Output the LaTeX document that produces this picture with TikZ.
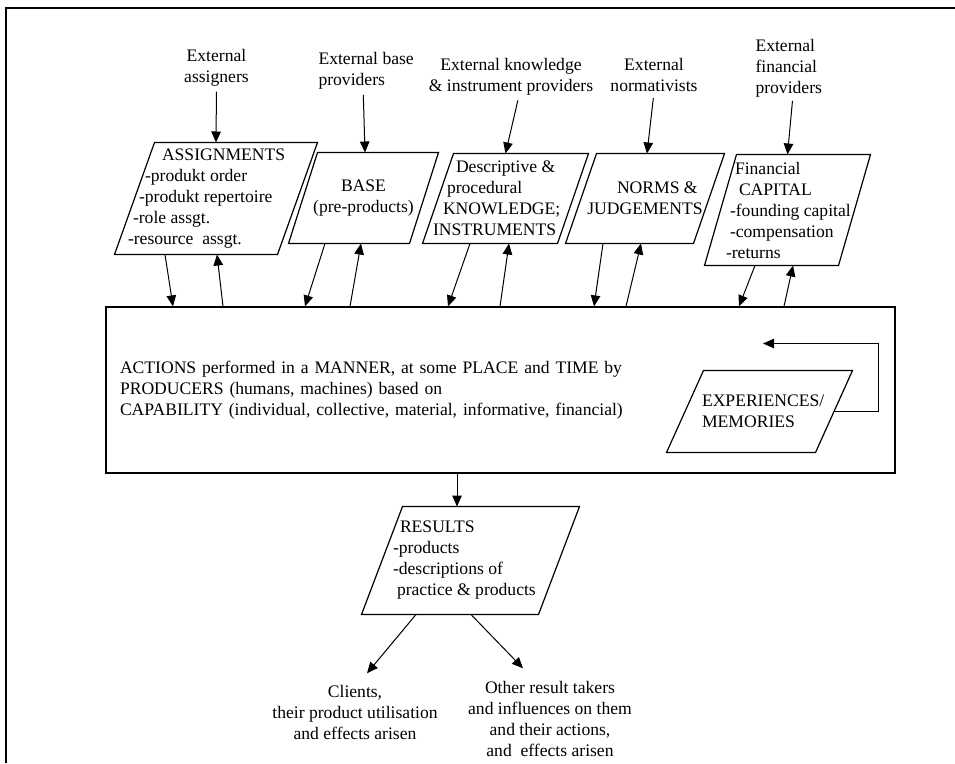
\documentclass[tikz,border=0pt]{standalone}
\usepackage{fontspec}
\setmainfont{Liberation Serif}
\usetikzlibrary{arrows.meta}

% parallelogram drawn round a node: node name, half of the slant
\newcommand{\slantbox}[2]{%
  \draw[box] ([xshift=#2pt]#1.north west) -- ([xshift=#2pt]#1.north east)
    -- ([xshift=-#2pt]#1.south east) -- ([xshift=-#2pt]#1.south west) -- cycle;}

\begin{document}
\begin{tikzpicture}[
    x=1pt, y=-1pt,
    line width=1pt,
    >={Triangle[length=11pt, width=9.5pt]},
    every node/.style={font=\fontsize{17.6}{21}\selectfont, inner sep=0pt},
    slant/.style={inner sep=0pt},
    box/.style={draw, line width=1.2pt}
]
\useasboundingbox (0,0) rectangle (955,763);

% page frame
\draw[line width=1.8pt] (6,763) -- (6,8) -- (955,8);

% outside parties
\node[align=center] (extassign) at (216.5,67.5) {External\\assigners};
\node[align=left, anchor=west] (extbase) at (318,71) {External base\\providers};
\node[align=center] (extknow) at (511,76.5) {External knowledge\\\& instrument providers};
\node[align=center] (extnorm) at (654,75) {External\\normativists};
\node[align=left, anchor=west] (extfin) at (755,68.5) {External\\financial\\providers};

% inputs
\node[slant, minimum width=162pt, minimum height=111pt] (assign) at (216,198.5) {};
\node[slant, minimum width=120pt, minimum height=90pt, align=center] (base) at (363.5,198) {BASE\\(pre-products)};
\node[slant, minimum width=134pt, minimum height=89pt] (know) at (505.5,198.5) {};
\node[slant, minimum width=127pt, minimum height=89pt, align=right] (norms) at (645,198.5) {NORMS \&\hspace*{5pt}\\JUDGEMENTS};
\node[slant, minimum width=133pt, minimum height=110pt] (fin) at (787.5,210) {};
\slantbox{assign}{20}
\slantbox{base}{14.5}
\slantbox{know}{15.5}
\slantbox{norms}{15.5}
\slantbox{fin}{16}

\node[align=left, anchor=west] (assigntxt) at ([xshift=-7pt]assign.west)
    {\hspace*{34pt}ASSIGNMENTS\\\hspace*{17pt}-produkt order\\\hspace*{11pt}-produkt repertoire\\\hspace*{5pt}-role assgt.\\-resource\ \ assgt.};
\node[align=left, anchor=west] (knowtxt) at ([xshift=-5.5pt]know.west)
    {\hspace*{23pt}Descriptive \&\\\hspace*{14pt}procedural\\\hspace*{10pt}KNOWLEDGE;\\INSTRUMENTS};
\node[align=left, anchor=west] (fintxt) at ([xshift=5pt]fin.west)
    {\hspace*{9pt}Financial\\\hspace*{13pt}CAPITAL\\\hspace*{4pt}-founding capital\\\hspace*{4pt}-compensation\\-returns};

% actions
\node[draw, line width=1.2pt, minimum width=789pt, minimum height=166pt, text width=761pt,
      inner xsep=14pt, align=left] (actions) at (500.5,390)
    {ACTIONS performed in a MANNER, at some PLACE and TIME by\\PRODUCERS (humans, machines) based on\\CAPABILITY (individual, collective, material, informative, financial)};
\node[slant, minimum width=148pt, minimum height=81pt] (exper) at (759.5,411.5) {};
\slantbox{exper}{18.5}
\node[align=left, anchor=west] (expertxt) at ([xshift=16.5pt]exper.west) {EXPERIENCES/\\MEMORIES};

% results
\node[slant, minimum width=176pt, minimum height=107pt] (results) at (470.5,560.5) {};
\slantbox{results}{20.5}
\node[align=left, anchor=west] (resulttxt) at ([xshift=10.5pt]results.west)
    {\hspace*{7pt}RESULTS\\-products\\-descriptions of\\\hspace*{4pt}practice \& products};

\node[align=center] (clients) at (355,712) {Clients,\\their product utilisation\\and effects arisen};
\node[align=center] (others) at (550,718.5) {Other result takers\\and influences on them\\and their actions,\\and\ \ effects arisen};

\path[->]
    (extassign.south) edge [shorten <=5pt] (assign.north)
    ([xshift=-3pt]extbase.south) edge [shorten <=5pt] ([xshift=1.5pt]base.north)
    ([xshift=8pt]extknow.south) edge [shorten <=5pt] (know.north)
    (extnorm.south) edge [shorten <=6pt] ([xshift=2pt]norms.north)
    ([xshift=4pt]extfin.south) edge [shorten <=3pt] (fin.north)
    ;

\path[->]
    ([xshift=-51pt]assign.south) edge ([xshift=-327.5pt]actions.north)
    ([xshift=-277.5pt]actions.north) edge ([xshift=1pt]assign.south)
    ([xshift=-38.5pt]base.south) edge ([xshift=-195.5pt]actions.north)
    ([xshift=-150.5pt]actions.north) edge ([xshift=-2.5pt]base.south)
    ([xshift=-35.5pt]know.south) edge ([xshift=-52.5pt]actions.north)
    ([xshift=-0.5pt]actions.north) edge ([xshift=3.5pt]know.south)
    ([xshift=-42pt]norms.south) edge ([xshift=93.5pt]actions.north)
    ([xshift=125.5pt]actions.north) edge ([xshift=-4pt]norms.south)
    ([xshift=-32.5pt]fin.south) edge ([xshift=238.5pt]actions.north)
    ([xshift=283.5pt]actions.north) edge ([xshift=5.5pt]fin.south)
    ;

\draw[->] (exper.east) -- ++(44.5,0) |- ([xshift=3.5pt,yshift=27pt]exper.north);

\path[->]
    ([xshift=-43.5pt]actions.south) edge ([xshift=-13.5pt]results.north)
    ([xshift=-54.5pt]results.south) edge ([xshift=12pt,yshift=11pt]clients.north)
    ([xshift=0.5pt]results.south) edge ([xshift=-27pt,yshift=12pt]others.north)
    ;

\end{tikzpicture}
\end{document}
